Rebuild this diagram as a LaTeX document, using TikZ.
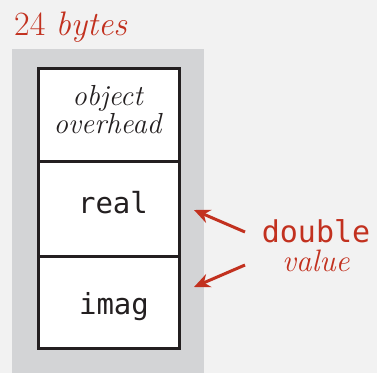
\documentclass[tikz,border=0pt]{standalone}
\usepackage{fontspec}
\newfontfamily\monofont{DejaVu Sans Mono}
\usetikzlibrary{arrows.meta}
\definecolor{bg}{HTML}{F2F2F2}
\definecolor{panel}{HTML}{D3D4D6}
\definecolor{ink}{HTML}{231F20}
\definecolor{accent}{HTML}{C2311F}
\begin{document}
\begin{tikzpicture}[x=1pt,y=-1pt,
  cell/.style={draw=ink, line width=3pt, fill=white, minimum width=141.5pt, inner sep=0pt, anchor=north west},
  fieldtext/.style={font=\monofont\fontsize{29}{29}\selectfont, text=ink, anchor=base, inner sep=0pt},
  pointer/.style={draw=accent, line width=3pt, -{Stealth[length=16pt,width=14pt]}}]
\fill[bg] (0,0) rectangle (377,373);
\useasboundingbox (0,0) rectangle (377,373);
\fill[panel] (12,49) rectangle (204,373);
\node[anchor=base west, inner sep=0pt, text=accent, font=\fontsize{34}{34}\selectfont] (size) at (14,35) {24 \textit{bytes}};
\node[cell, minimum height=93pt] (ovh) at (36.5,66.5) {};
\node[cell, minimum height=95pt] (re) at (36.5,159.5) {};
\node[cell, minimum height=92.5pt] (im) at (36.5,254.5) {};
\node[anchor=base, inner sep=0pt, text=ink, align=center, font=\itshape\fontsize{29}{26}\selectfont] (ovhtext) at (107.5,133) {object\\overhead};
\node[fieldtext] (retext) at (113,213) {real};
\node[fieldtext] (imtext) at (114,314) {imag};
\node[anchor=base, inner sep=0pt, text=accent, align=center, font=\fontsize{31}{29}\selectfont] (lbl) at (316,271) {{\monofont\fontsize{30}{29}\selectfont double}\\\textit{value}};
\coordinate (a1) at (245,232);
\coordinate (t1) at (194,210);
\coordinate (a2) at (245,265);
\coordinate (t2) at (194,287);
\draw[pointer] (a1) -- (t1);
\draw[pointer] (a2) -- (t2);
\end{tikzpicture}
\end{document}
